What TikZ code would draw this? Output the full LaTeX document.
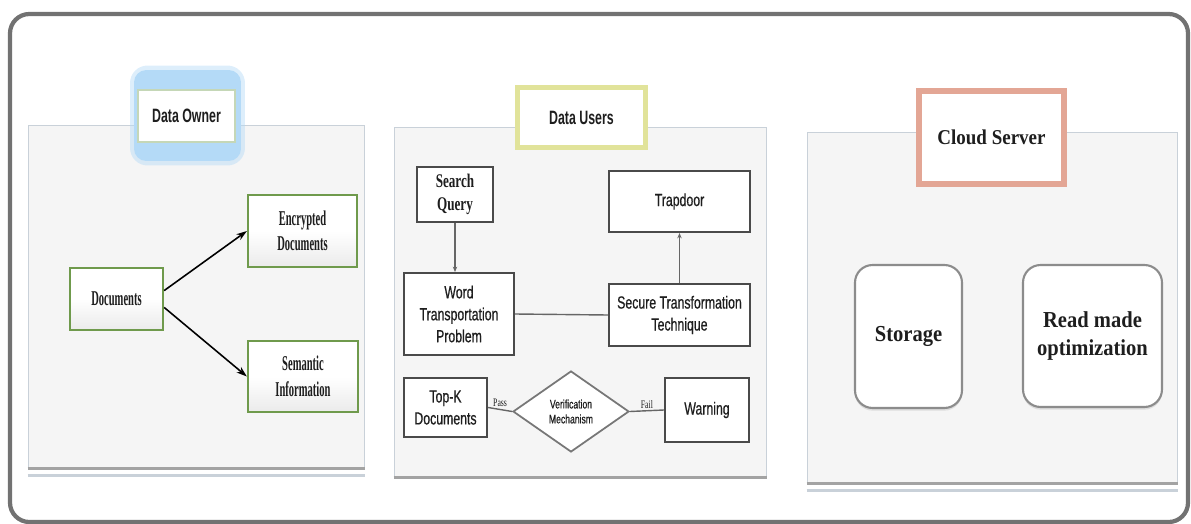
\documentclass[tikz,border=0pt]{standalone}
\usepackage{fontspec}
\setmainfont{Liberation Serif}
\newfontfamily\ownerfont[FakeStretch=0.5]{Liberation Serif}
\newfontfamily\queryfont[FakeStretch=0.68]{Liberation Serif}
\newfontfamily\userfont[FakeStretch=0.7, FakeBold=0.6]{Liberation Sans}
\newfontfamily\headfont[FakeStretch=0.64]{Liberation Sans}
\newfontfamily\cloudfont[FakeStretch=0.9]{Liberation Serif}
\usetikzlibrary{arrows.meta, shapes.geometric, shadows, positioning}
\definecolor{frameline}{HTML}{727272}
\definecolor{panelfill}{HTML}{F5F5F5}
\definecolor{panelline}{HTML}{C9D1D9}
\definecolor{panelbase}{HTML}{A3A3A3}
\definecolor{ownergreen}{HTML}{6F9A4C}
\definecolor{glowblue}{HTML}{B4DAF7}
\definecolor{useryellow}{HTML}{E1E39A}
\definecolor{cloudsalmon}{HTML}{E3A695}
\definecolor{boxline}{HTML}{4A4A4A}
\definecolor{cloudline}{HTML}{8C8C8C}
\definecolor{linkgray}{HTML}{666666}
\definecolor{ink}{HTML}{1E1E1E}

\begin{document}
\begin{tikzpicture}[
            x=0.02cm, y=-0.02cm,
            panel/.style={draw=panelline, fill=panelfill, line width=0.6pt},
            base/.style={draw=panelbase, line width=1.6pt},
            baseshade/.style={draw=panelline, line width=1.2pt},
            headbox/.style={fill=white, text=ink, font=\headfont\bfseries\fontsize{11}{13}\selectfont},
            ownbox/.style={draw=ownergreen, line width=1.3pt, top color=white,
                           bottom color=black!8, middle color=white, text=ink,
                           font=\ownerfont\bfseries\fontsize{12}{14.5}\selectfont, align=center},
            userbox/.style={draw=boxline, line width=1.2pt, fill=white, text=ink,
                            font=\userfont\fontsize{10}{12.5}\selectfont, align=center},
            cloudbox/.style={draw=cloudline, line width=1.2pt, fill=white, rounded corners=10pt,
                             drop shadow={opacity=0.2, shadow xshift=0pt, shadow yshift=-1.5pt},
                             text=ink, font=\cloudfont\bfseries\fontsize{13}{15.5}\selectfont, align=center},
            arr/.style={-{Stealth[length=6pt, width=4pt]}, line width=0.9pt, black},
            link/.style={draw=linkgray, line width=0.8pt},
            tinyarr/.style={link, -{Stealth[length=3pt, width=2.5pt]}},
            passfail/.style={text=ink, inner sep=1pt, font=\queryfont\fontsize{6.5}{7.5}\selectfont}
          ]
          \useasboundingbox (0,0) rectangle (1191,524);
          \draw[frameline, line width=2.4pt, rounded corners=11pt] (10,14) rectangle (1188,522);

          % Data Owner
          \node[panel, minimum width=6.74cm, minimum height=6.86cm] (ownpanel) at (196.5,296.5) {};
          \draw[base] (ownpanel.south west) -- (ownpanel.south east);
          \draw[baseshade] ([yshift=-4pt]ownpanel.south west) -- ([yshift=-4pt]ownpanel.south east);
          \node[fill=glowblue, fill opacity=0.45, rounded corners=10pt,
                minimum width=2.3cm, minimum height=2.0cm] (ownhalo) at (187.5,115.5) {};
          \node[fill=glowblue, rounded corners=7pt,
                minimum width=2.14cm, minimum height=1.82cm] (ownglow) at (187.5,115.5) {};
          \node[headbox, draw=ownergreen!40, line width=0.6pt,
                minimum width=1.94cm, minimum height=1.04cm] (ownlabel) at (186.5,116) {Data Owner};
          \node[ownbox, minimum width=1.86cm, minimum height=1.24cm] (docs) at (116.5,299) {Documents};
          \node[ownbox, minimum width=2.18cm, minimum height=1.44cm] (encdocs) at (302.5,231) {Encrypted\\Documents};
          \node[ownbox, minimum width=2.2cm, minimum height=1.42cm] (seminfo) at (303,376.5) {Semantic\\Information};
          \draw[arr] (docs.10) -- (encdocs.west);
          \draw[arr] (docs.-10) -- (seminfo.west);

          % Data Users
          \node[panel, minimum width=7.46cm, minimum height=7.0cm] (userpanel) at (580.5,302) {};
          \draw[base] (userpanel.south west) -- (userpanel.south east);
          \node[headbox, draw=useryellow, line width=3pt,
                minimum width=2.56cm, minimum height=1.2cm] (userlabel) at (581.5,117.5) {Data Users};
          \node[userbox, font=\queryfont\bfseries\fontsize{11}{13}\selectfont,
                minimum width=1.52cm, minimum height=1.1cm] (query) at (455,194.5) {Search\\Query};
          \node[userbox, minimum width=2.82cm, minimum height=1.22cm] (trapdoor) at (679.5,201.5) {Trapdoor};
          \node[userbox, minimum width=2.2cm, minimum height=1.64cm] (wtp) at (459,314) {Word\\Transportation\\Problem};
          \node[userbox, minimum width=2.82cm, minimum height=1.24cm] (stt) at (679.5,315) {Secure Transformation\\Technique};
          \node[userbox, minimum width=1.66cm, minimum height=1.18cm] (topk) at (445.5,407.5) {Top-K\\Documents};
          \node[diamond, draw=boxline!75, line width=1pt, fill=white, inner sep=0pt, aspect=1.43,
                minimum width=2.32cm, minimum height=1.62cm, text=ink,
                font=\userfont\fontsize{7}{8.5}\selectfont, align=center] (verify) at (571,411.5) {Verification\\Mechanism};
          \node[userbox, minimum width=1.68cm, minimum height=1.28cm] (warning) at (707,410) {Warning};
          \draw[tinyarr] (query.south) -- (query.south |- wtp.north);
          \draw[tinyarr] (stt.north) -- (trapdoor.south);
          \draw[link] (wtp.east) -- (stt.west);
          \draw[link] (topk.east) -- node[above, passfail] {Pass} (verify.west);
          \draw[link] (verify.east) -- node[above, passfail] {Fail} (warning.west);

          % Cloud Server
          \node[panel, minimum width=7.42cm, minimum height=7.02cm] (cloudpanel) at (992.5,307.5) {};
          \draw[base] (cloudpanel.south west) -- (cloudpanel.south east);
          \draw[baseshade] ([yshift=-4pt]cloudpanel.south west) -- ([yshift=-4pt]cloudpanel.south east);
          \node[headbox, draw=cloudsalmon, line width=3.5pt, font=\cloudfont\bfseries\fontsize{12}{14}\selectfont,
                minimum width=2.9cm, minimum height=1.86cm] (cloudlabel) at (991.5,137.5) {Cloud Server};
          \node[cloudbox, minimum width=2.14cm, minimum height=2.86cm] (storage) at (908.5,336.5) {Storage};
          \node[cloudbox, minimum width=2.78cm, minimum height=2.84cm] (readopt) at (1092.5,336) {Read made\\optimization};
        \end{tikzpicture}
\end{document}
